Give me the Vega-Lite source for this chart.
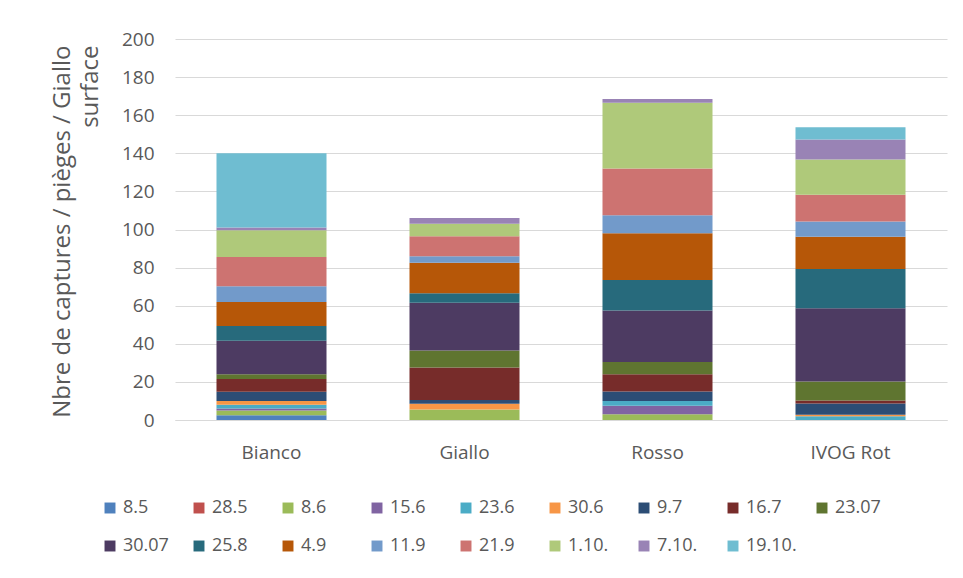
{
  "$schema": "https://vega.github.io/schema/vega-lite/v6.json",
  "width": 772,
  "height": 381,
  "autosize": {"type": "none"},
  "padding": {"left": 175, "top": 39, "right": 16, "bottom": 158},
  "background": "white",
  "datasets": {
    "dates": [
      {"date": "8.5", "rang": 1},
      {"date": "28.5", "rang": 2},
      {"date": "8.6", "rang": 3},
      {"date": "15.6", "rang": 4},
      {"date": "23.6", "rang": 5},
      {"date": "30.6", "rang": 6},
      {"date": "9.7", "rang": 7},
      {"date": "16.7", "rang": 8},
      {"date": "23.07", "rang": 9},
      {"date": "30.07", "rang": 10},
      {"date": "25.8", "rang": 11},
      {"date": "4.9", "rang": 12},
      {"date": "11.9", "rang": 13},
      {"date": "21.9", "rang": 14},
      {"date": "1.10.", "rang": 15},
      {"date": "7.10.", "rang": 16},
      {"date": "19.10.", "rang": 17}
    ]
  },
  "data": {
    "values": [
      {"piege": "Bianco", "date": "8.5", "captures": 2.5},
      {"piege": "Bianco", "date": "8.6", "captures": 2.5},
      {"piege": "Bianco", "date": "15.6", "captures": 1},
      {"piege": "Bianco", "date": "23.6", "captures": 2},
      {"piege": "Bianco", "date": "30.6", "captures": 2},
      {"piege": "Bianco", "date": "9.7", "captures": 4.8},
      {"piege": "Bianco", "date": "16.7", "captures": 6.7},
      {"piege": "Bianco", "date": "23.07", "captures": 2.5},
      {"piege": "Bianco", "date": "30.07", "captures": 17.6},
      {"piege": "Bianco", "date": "25.8", "captures": 7.7},
      {"piege": "Bianco", "date": "4.9", "captures": 12.7},
      {"piege": "Bianco", "date": "11.9", "captures": 8.2},
      {"piege": "Bianco", "date": "21.9", "captures": 15.4},
      {"piege": "Bianco", "date": "1.10.", "captures": 14},
      {"piege": "Bianco", "date": "7.10.", "captures": 1.4},
      {"piege": "Bianco", "date": "19.10.", "captures": 39},

      {"piege": "Giallo", "date": "8.6", "captures": 5.5},
      {"piege": "Giallo", "date": "30.6", "captures": 3},
      {"piege": "Giallo", "date": "9.7", "captures": 2},
      {"piege": "Giallo", "date": "16.7", "captures": 17},
      {"piege": "Giallo", "date": "23.07", "captures": 9},
      {"piege": "Giallo", "date": "30.07", "captures": 25},
      {"piege": "Giallo", "date": "25.8", "captures": 5},
      {"piege": "Giallo", "date": "4.9", "captures": 16},
      {"piege": "Giallo", "date": "11.9", "captures": 3.5},
      {"piege": "Giallo", "date": "21.9", "captures": 10.5},
      {"piege": "Giallo", "date": "1.10.", "captures": 6.5},
      {"piege": "Giallo", "date": "7.10.", "captures": 3},

      {"piege": "Rosso", "date": "8.6", "captures": 3},
      {"piege": "Rosso", "date": "15.6", "captures": 4.5},
      {"piege": "Rosso", "date": "23.6", "captures": 2.5},
      {"piege": "Rosso", "date": "9.7", "captures": 5},
      {"piege": "Rosso", "date": "16.7", "captures": 9},
      {"piege": "Rosso", "date": "23.07", "captures": 6.5},
      {"piege": "Rosso", "date": "30.07", "captures": 27},
      {"piege": "Rosso", "date": "25.8", "captures": 16},
      {"piege": "Rosso", "date": "4.9", "captures": 24.5},
      {"piege": "Rosso", "date": "11.9", "captures": 9.5},
      {"piege": "Rosso", "date": "21.9", "captures": 24.5},
      {"piege": "Rosso", "date": "1.10.", "captures": 34.5},
      {"piege": "Rosso", "date": "7.10.", "captures": 2},

      {"piege": "IVOG Rot", "date": "23.6", "captures": 2},
      {"piege": "IVOG Rot", "date": "30.6", "captures": 0.7},
      {"piege": "IVOG Rot", "date": "9.7", "captures": 6},
      {"piege": "IVOG Rot", "date": "16.7", "captures": 1.5},
      {"piege": "IVOG Rot", "date": "23.07", "captures": 10},
      {"piege": "IVOG Rot", "date": "30.07", "captures": 38.5},
      {"piege": "IVOG Rot", "date": "25.8", "captures": 20.5},
      {"piege": "IVOG Rot", "date": "4.9", "captures": 17},
      {"piege": "IVOG Rot", "date": "11.9", "captures": 8},
      {"piege": "IVOG Rot", "date": "21.9", "captures": 14},
      {"piege": "IVOG Rot", "date": "1.10.", "captures": 18.5},
      {"piege": "IVOG Rot", "date": "7.10.", "captures": 10.5},
      {"piege": "IVOG Rot", "date": "19.10.", "captures": 6.5}
    ]
  },
  "transform": [
    {"lookup": "date", "from": {"data": {"name": "dates"}, "key": "date", "fields": ["rang"]}}
  ],
  "mark": {"type": "bar"},
  "encoding": {
    "x": {
      "field": "piege",
      "type": "nominal",
      "sort": ["Bianco", "Giallo", "Rosso", "IVOG Rot"],
      "scale": {"paddingInner": 0.43, "paddingOuter": 0.215},
      "axis": {
        "title": null,
        "labelAngle": 0,
        "labelFont": "Open Sans",
        "labelFontSize": 19,
        "labelColor": "#595959",
        "labelPadding": 23,
        "ticks": false,
        "domain": true,
        "domainColor": "#D9D9D9"
      }
    },
    "y": {
      "field": "captures",
      "type": "quantitative",
      "aggregate": "sum",
      "stack": "zero",
      "scale": {"domain": [0, 200], "nice": false},
      "axis": {
        "values": [0, 20, 40, 60, 80, 100, 120, 140, 160, 180, 200],
        "title": ["Nbre de captures / pièges / Giallo", "surface"],
        "titleFont": "Open Sans",
        "titleFontWeight": "normal",
        "titleFontSize": 24,
        "titleColor": "#595959",
        "titleAngle": -90,
        "titleAlign": "right",
        "titleBaseline": "top",
        "titleX": -125,
        "titleY": 6,
        "titleLineHeight": 28,
        "labelFont": "Open Sans",
        "labelFontSize": 19,
        "labelColor": "#595959",
        "labelPadding": 21,
        "ticks": false,
        "domain": false,
        "grid": true,
        "gridColor": "#D9D9D9",
        "gridWidth": 1
      }
    },
    "color": {
      "field": "date",
      "type": "nominal",
      "sort": ["8.5", "28.5", "8.6", "15.6", "23.6", "30.6", "9.7", "16.7", "23.07", "30.07", "25.8", "4.9", "11.9", "21.9", "1.10.", "7.10.", "19.10."],
      "scale": {
        "domain": ["8.5", "28.5", "8.6", "15.6", "23.6", "30.6", "9.7", "16.7", "23.07", "30.07", "25.8", "4.9", "11.9", "21.9", "1.10.", "7.10.", "19.10."],
        "range": ["#4F81BD", "#C0504D", "#9BBB59", "#8064A2", "#4BACC6", "#F79646", "#2C4D75", "#772C2A", "#5F7530", "#4D3B62", "#276A7C", "#B65708", "#729ACA", "#CD7371", "#AFC97A", "#9983B5", "#6FBDD1"]
      },
      "legend": {
        "title": null,
        "orient": "none",
        "legendX": -74,
        "legendY": 460,
        "direction": "horizontal",
        "columns": 9,
        "gridAlign": "all",
        "columnPadding": 16,
        "rowPadding": 20,
        "symbolType": "square",
        "symbolSize": 120,
        "symbolStrokeWidth": 0,
        "labelFont": "Open Sans",
        "labelFontSize": 18,
        "labelColor": "#595959",
        "labelOffset": 4
      }
    },
    "order": {"field": "rang", "type": "quantitative", "sort": "ascending"}
  },
  "config": {
    "view": {"stroke": null}
  }
}
